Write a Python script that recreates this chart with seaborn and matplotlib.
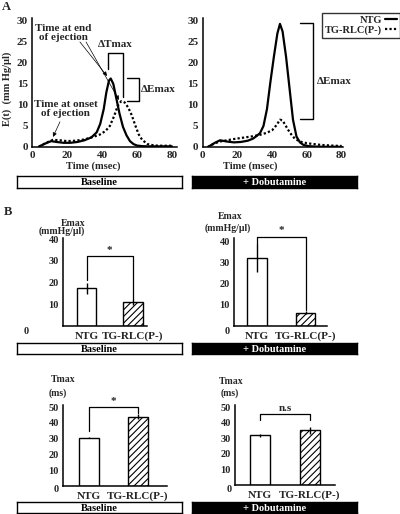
import numpy as np
import pandas as pd
import seaborn as sns
import matplotlib.pyplot as plt
from matplotlib.lines import Line2D

# ---- panel A: E(t) traces (time in msec, E in mmHg/ul)
base_ntg_t = [4, 8, 11, 14, 18, 22, 26, 30, 34, 37, 39, 41, 42.5, 44, 45, 46.5, 48, 50, 52, 54, 56, 58, 60, 63, 66, 70, 75, 80]
base_ntg_e = [0.1, 0.9, 1.4, 1.2, 1.0, 1.0, 1.2, 1.6, 2.3, 3.5, 5.5, 9.0, 13.0, 15.8, 16.3, 15.0, 12.0, 8.0, 4.8, 2.8, 1.4, 0.7, 0.35, 0.2, 0.15, 0.15, 0.15, 0.15]
base_tg_t = [4, 8, 12, 16, 20, 25, 30, 35, 39, 42, 44.5, 47, 49, 51, 53, 55, 57, 59, 61, 63, 66, 70, 75, 80]
base_tg_e = [0.1, 1.0, 1.7, 1.6, 1.4, 1.5, 1.8, 2.4, 3.0, 3.8, 5.0, 7.4, 9.8, 10.9, 10.6, 9.4, 7.6, 5.2, 3.0, 1.7, 0.7, 0.35, 0.3, 0.3]
dob_ntg_t = [3, 7, 10, 14, 18, 22, 26, 29, 31, 33, 35, 37, 39, 41, 43, 44.5, 46, 48, 50, 52, 54, 56, 58, 61, 65, 70, 80]
dob_ntg_e = [0, 1.0, 1.6, 1.3, 1.1, 1.2, 1.5, 2.0, 2.6, 3.3, 5.0, 9.0, 15.5, 21.5, 27.0, 29.3, 27.5, 21.5, 14.0, 6.5, 2.5, 1.1, 0.5, 0.2, 0.1, 0.05, 0.05]
dob_tg_t = [3, 7, 10, 14, 18, 23, 28, 33, 37, 40, 42.5, 44.5, 46, 47.5, 49, 51, 53, 56, 60, 64, 68, 72, 76, 80]
dob_tg_e = [0, 0.9, 1.3, 1.6, 1.9, 2.2, 2.5, 2.9, 3.4, 4.0, 5.2, 6.5, 6.3, 5.3, 4.2, 3.0, 2.0, 1.3, 0.9, 0.7, 0.5, 0.4, 0.3, 0.25]

time_ticks = [0, 20, 40, 60, 80]
e_ticks = [0, 5, 10, 15, 20, 25, 30]

# ---- panel B: group means and error bars
groups = ["NTG", "TG-RLC(P-)"]
emax_base = [17.3, 11.0]
emax_base_err = [2.5, 1.2]
emax_dob = [32.3, 6.3]
emax_dob_err = [6.5, 0.8]
tmax_base = [30.7, 44.0]
tmax_base_err = [0.6, 1.5]
tmax_dob = [31.8, 35.0]
tmax_dob_err = [1.0, 2.2]
emax_ticks = [10, 20, 30, 40]
tmax_ticks = [10, 20, 30, 40, 50]

W, H = 400, 514
FONT = ["Liberation Serif", "DejaVu Serif"]

sns.set_style("white")
plt.rcParams["font.family"] = FONT
plt.rcParams["font.weight"] = "bold"
plt.rcParams["hatch.linewidth"] = 0.8


def px(x, y):
    return x / W, 1 - y / H


def rect(x0, y0, x1, y1):
    return [x0 / W, 1 - y1 / H, (x1 - x0) / W, (y1 - y0) / H]


def style_axes(ax, size=8):
    sns.despine(ax=ax)
    for s in ("left", "bottom"):
        ax.spines[s].set_linewidth(1.1)
        ax.spines[s].set_color("black")
    ax.tick_params(length=0, pad=3, labelsize=size)
    for lab in ax.get_xticklabels() + ax.get_yticklabels():
        lab.set_fontweight("bold")


def condition_box(x0, y0, x1, y1, label, dark):
    bx = fig.add_axes(rect(x0, y0, x1, y1))
    bx.set_xticks([])
    bx.set_yticks([])
    bx.set_facecolor("black" if dark else "white")
    for s in bx.spines.values():
        s.set_linewidth(1.0)
        s.set_color("black")
    bx.text(0.5, 0.45, label, transform=bx.transAxes, ha="center", va="center",
            fontsize=7.5, fontweight="bold", color="white" if dark else "black")


fig = plt.figure(figsize=(W / 100, H / 100), dpi=100)

# ---------------- panel A ----------------
axL = fig.add_axes(rect(32, 18, 177, 147))
axR = fig.add_axes(rect(202.7, 18, 343, 147))
traces = [(axL, base_ntg_t, base_ntg_e, base_tg_t, base_tg_e, 82.9),
          (axR, dob_ntg_t, dob_ntg_e, dob_tg_t, dob_tg_e, 80.8)]
for ax, nt, ne, tt, te, xmax in traces:
    sns.lineplot(x=nt, y=ne, ax=ax, color="black", lw=1.6)
    sns.lineplot(x=tt, y=te, ax=ax, color="black", lw=1.6, linestyle=(0, (1, 1)))
    ax.set_xlim(0, xmax)
    ax.set_ylim(0, 30.7)
    ax.set_xticks(time_ticks)
    ax.set_yticks(e_ticks)
    style_axes(ax)

# annotations on the baseline traces
arr = dict(arrowstyle="-|>", lw=0.5, color="black", mutation_scale=6, shrinkA=0, shrinkB=0)
axL.text(17.7, 27.2, "Time at end\nof ejection", ha="center", va="center", fontsize=8,
         fontweight="bold", linespacing=1.0)
axL.annotate("", xy=(42.9, 16.9), xytext=(27.4, 25.0), arrowprops=arr)
axL.annotate("", xy=(49.7, 11.2), xytext=(30.9, 25.0), arrowprops=arr)
axL.text(19.4, 9.0, "Time at onset\nof ejection", ha="center", va="center", fontsize=8,
         fontweight="bold", linespacing=1.0)
axL.annotate("", xy=(12.0, 2.4), xytext=(16.0, 6.0), arrowprops=arr)
axL.plot([43.4, 43.4, 51.8, 51.8], [18.6, 22.4, 22.4, 11.9], color="black", lw=1.0, clip_on=False)
axL.text(47.6, 23.3, "\u0394Tmax", ha="center", va="bottom", fontsize=8, fontweight="bold")
axL.plot([54.3, 61.0, 61.0, 54.3], [16.4, 16.4, 11.0, 11.0], color="black", lw=1.0, clip_on=False)
axL.text(62.5, 13.7, "\u0394Emax", ha="left", va="center", fontsize=8, fontweight="bold")

axR.plot([56.0, 63.5, 63.5, 56.0], [29.4, 29.4, 6.6, 6.6], color="black", lw=1.0, clip_on=False)
axR.text(65.6, 15.6, "\u0394Emax", ha="left", va="center", fontsize=8, fontweight="bold")

handles = [Line2D([], [], color="black", lw=1.6),
           Line2D([], [], color="black", lw=1.6, linestyle=(0, (1, 1)))]
leg = axR.legend(handles, groups, loc="upper right", bbox_to_anchor=(1.0, 1 - 13 / H),
                 bbox_transform=fig.transFigure, markerfirst=False, fancybox=False,
                 frameon=True, edgecolor="black", fontsize=7.5, handlelength=1.2,
                 handletextpad=0.3, borderpad=0.25, labelspacing=0.05, borderaxespad=0)
leg.get_frame().set_linewidth(1.0)
for t in leg.get_texts():
    t.set_fontweight("bold")

fig.text(*px(7, 89), "E(t)  (mm Hg/\u03bcl)", rotation=90, ha="center", va="center",
         fontsize=7.5, fontweight="bold")
fig.text(*px(93, 166), "Time (msec)", ha="center", va="center", fontsize=7.5, fontweight="bold")
fig.text(*px(250, 166), "Time (msec)", ha="center", va="center", fontsize=7.5, fontweight="bold")
fig.text(*px(6, 7), "A", ha="center", va="center", fontsize=9, fontweight="bold")
fig.text(*px(8, 212), "B", ha="center", va="center", fontsize=9, fontweight="bold")

condition_box(17, 176, 182, 187.5, "Baseline", False)
condition_box(192, 176, 357, 187.5, "+ Dobutamine", True)

# ---------------- panel B ----------------
bar_panels = [
    # rect, means, errs, ticks, ylim, xlim, width, bracket (left, top, right), mark, zero-label pos
    (rect(63, 238, 147, 326), emax_base, emax_base_err, emax_ticks, 40.5, (-0.505, 1.30), 0.42, (21, 32, 12.5), "*", (26, 331)),
    (rect(234, 237.7, 327, 326), emax_dob, emax_dob_err, emax_ticks, 42.0, (-0.474, 1.443), 0.40, (39, 42.5, 7.5), "*", (227, 332)),
    (rect(63, 405, 167, 486), tmax_base, tmax_base_err, tmax_ticks, 51.3, (-0.53, 1.59), 0.41, (35, 50, 46), "*", (56, 489)),
    (rect(235, 405, 335, 485), tmax_dob, tmax_dob_err, tmax_ticks, 51.3, (-0.5, 1.5), 0.40, (41.5, 45.5, 41.5), "n.s", (229, 489)),
]
for r, means, errs, ticks, ytop, xl, width, (bl, bt, br), mark, zpos in bar_panels:
    ax = fig.add_axes(r)
    df = pd.DataFrame({"group": groups, "value": means})
    sns.barplot(data=df, x="group", y="value", color="white", saturation=1, edgecolor="black",
                linewidth=1.0, width=width, errorbar=None, ax=ax)
    ax.patches[1].set_hatch("/////")
    ax.errorbar([0, 1], means, yerr=errs, fmt="none", ecolor="black", elinewidth=1.0, capsize=0)
    ax.set_xlim(*xl)
    ax.set_ylim(0, ytop)
    ax.set_yticks(ticks)
    ax.set_xlabel("")
    ax.set_ylabel("")
    style_axes(ax, size=7.5)
    ax.tick_params(axis="x", pad=4, labelsize=8)
    ax.plot([0, 0, 1, 1], [bl, bt, bt, br], color="black", lw=0.9, clip_on=False)
    ax.text(0.5, bt + 0.6, mark, ha="center", va="bottom", fontsize=8, fontweight="bold")
    fig.text(*px(*zpos), "0", ha="center", va="center", fontsize=7.5, fontweight="bold")

fig.text(*px(85, 223), "Emax", ha="right", va="center", fontsize=7, fontweight="bold")
fig.text(*px(85, 231.5), "(mmHg/\u03bcl)", ha="right", va="center", fontsize=7, fontweight="bold")
fig.text(*px(230, 216), "Emax", ha="center", va="center", fontsize=7, fontweight="bold")
fig.text(*px(228, 228), "(mmHg/\u03bcl)", ha="center", va="center", fontsize=7, fontweight="bold")
fig.text(*px(63, 379), "Tmax", ha="center", va="center", fontsize=7, fontweight="bold")
fig.text(*px(58, 393), "(ms)", ha="center", va="center", fontsize=7, fontweight="bold")
fig.text(*px(231, 381), "Tmax", ha="center", va="center", fontsize=7, fontweight="bold")
fig.text(*px(230, 393), "(ms)", ha="center", va="center", fontsize=7, fontweight="bold")

condition_box(17, 343, 182, 354, "Baseline", False)
condition_box(192, 343, 357, 354, "+ Dobutamine", True)
condition_box(17, 502, 182, 513, "Baseline", False)
condition_box(192, 502, 357, 513, "+ Dobutamine", True)

fig.savefig("out.png", dpi=100)
